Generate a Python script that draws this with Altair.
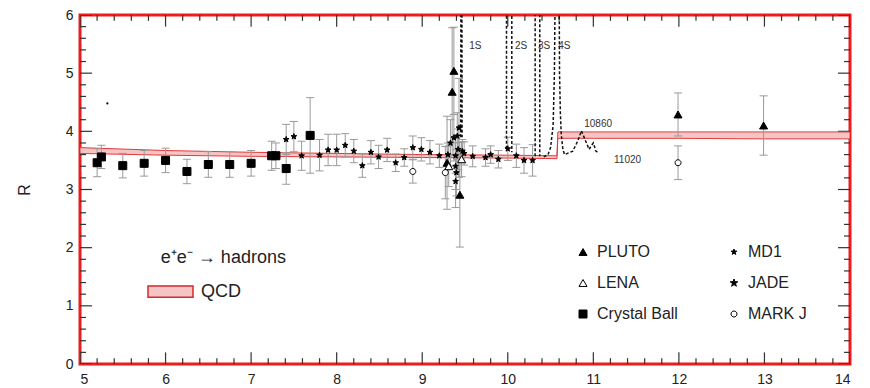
import altair as alt
import pandas as pd

# ---- measurements: centre-of-mass energy (GeV), R, symmetric error ----
cb_x = [5.20, 5.25, 5.50, 5.75, 6.00, 6.25, 6.50, 6.75, 7.00, 7.24, 7.29, 7.41, 7.69]
cb_r = [3.46, 3.56, 3.41, 3.45, 3.50, 3.31, 3.43, 3.43, 3.45, 3.58, 3.58, 3.36, 3.93]
cb_e = [0.24, 0.20, 0.21, 0.22, 0.21, 0.21, 0.22, 0.22, 0.22, 0.25, 0.22, 0.27, 0.65]

md1_x = [7.41, 7.50, 7.59, 7.80, 7.90, 8.00, 8.10, 8.20, 8.30, 8.40, 8.49, 8.59, 8.69,
         8.79, 8.89, 8.99, 9.09, 9.20, 9.30, 9.33, 9.37, 9.39, 9.39, 9.39, 9.40, 9.41,
         9.42, 9.43, 9.47, 9.49, 9.59, 9.74, 9.80, 9.89, 10.00, 10.10, 10.19, 10.29]
md1_r = [3.86, 3.91, 3.58, 3.59, 3.68, 3.68, 3.76, 3.66, 3.41, 3.64, 3.56, 3.68, 3.46,
         3.55, 3.72, 3.69, 3.64, 3.58, 3.60, 3.80, 3.89, 3.58, 3.40, 3.14, 3.29, 3.92,
         3.69, 4.06, 3.66, 3.62, 3.57, 3.55, 3.60, 3.52, 3.70, 3.58, 3.50, 3.50]
md1_e = [0.26, 0.26, 0.25, 0.27, 0.27, 0.27, 0.20, 0.20, 0.20, 0.20, 0.20, 0.20, 0.15,
         0.15, 0.20, 0.20, 0.20, 0.20, 0.20, 0.40, 0.40, 0.30, 0.40, 0.45, 0.40, 0.40,
         0.35, 0.85, 0.20, 0.20, 0.18, 0.15, 0.15, 0.15, 0.20, 0.20, 0.22, 0.27]

pluto_x = [9.29, 9.35, 9.37, 9.44, 11.99, 12.99]
pluto_r = [3.46, 4.68, 5.04, 2.91, 4.29, 4.10]
pluto_e = [0.80, 1.10, 0.75, 0.90, 0.37, 0.51]

lena_x = [9.31, 9.46]
lena_r = [3.40, 3.52]
lena_e = [0.35, 0.30]

markj_x = [8.89, 9.27, 11.99]
markj_r = [3.31, 3.29, 3.46]
markj_e = [0.20, 0.45, 0.29]

stray_x = [5.32]
stray_r = [4.48]

# ---- QCD prediction band (below / above the b-bbar threshold) ----
qcd_x = [5.0, 6.0, 7.0, 8.0, 9.0, 10.0, 10.575, 10.585, 11.0, 12.0, 13.0, 14.0]
qcd_lo = [3.62, 3.59, 3.57, 3.56, 3.55, 3.54, 3.53, 3.88, 3.88, 3.88, 3.87, 3.87]
qcd_hi = [3.72, 3.67, 3.64, 3.62, 3.60, 3.59, 3.58, 3.99, 3.99, 3.99, 3.99, 3.99]

# ---- Upsilon resonance line shapes (peaks run off the top) ----
ups1_x = [9.450, 9.458, 9.466]
ups1_r = [3.90, 12.0, 3.90]
ups2_x = [9.985, 9.985, 10.047, 10.047]
ups2_r = [3.70, 6.6, 6.6, 3.64]
ups3_x = [10.320, 10.320, 10.374, 10.374]
ups3_r = [3.57, 6.6, 6.6, 3.57]
ups4_x = [10.42, 10.47, 10.50, 10.53, 10.545, 10.555, 10.600, 10.605, 10.615, 10.625,
          10.645, 10.665, 10.76, 10.82, 10.86, 10.92, 10.95, 10.98, 11.00, 11.03, 11.06]
ups4_r = [3.56, 3.60, 3.72, 4.10, 5.00, 6.60, 6.60, 5.00, 4.30, 3.95,
          3.68, 3.60, 3.66, 3.84, 4.01, 3.80, 3.69, 3.76, 3.80, 3.66, 3.63]

res_text = ["1S", "2S", "3S", "4S", "10860", "11020"]
res_text_x = [9.62, 10.155, 10.425, 10.66, 11.056, 11.40]
res_text_y = [5.46, 5.46, 5.46, 5.46, 4.12, 3.51]

experiments = ["PLUTO", "LENA", "Crystal Ball", "MD1", "JADE", "MARK J"]

# ---- tables ----
rows = []
for name, xs_, rs_, es_ in [("Crystal Ball", cb_x, cb_r, cb_e), ("MD1", md1_x, md1_r, md1_e),
                            ("PLUTO", pluto_x, pluto_r, pluto_e), ("LENA", lena_x, lena_r, lena_e),
                            ("MARK J", markj_x, markj_r, markj_e)]:
    for x, r, e in zip(xs_, rs_, es_):
        rows.append({"E": x, "R": r, "lo": r - e, "hi": r + e, "exp": name})
pts = pd.DataFrame(rows)

band = pd.DataFrame({"E": qcd_x, "lo": qcd_lo, "hi": qcd_hi, "lab": ["QCD"] * len(qcd_x)})

res_rows = []
for name, xs_, rs_ in [("1S", ups1_x, ups1_r), ("2S", ups2_x, ups2_r),
                       ("3S", ups3_x, ups3_r), ("4S", ups4_x, ups4_r)]:
    for i, (x, r) in enumerate(zip(xs_, rs_)):
        res_rows.append({"E": x, "R": r, "res": name, "i": i})
res = pd.DataFrame(res_rows)

labels = pd.DataFrame({"t": res_text, "E": res_text_x, "R": res_text_y})
stray = pd.DataFrame({"E": stray_x, "R": stray_r})
title_df = pd.DataFrame({"t": ["e\u207ae\u207b \u2192 hadrons"], "E": [5.945], "R": [1.83]})

FONT = "Liberation Sans"
X_MIN, X_MAX, Y_MIN, Y_MAX = 5, 14, 0, 6
xsc = alt.Scale(domain=[X_MIN, X_MAX], nice=False, zero=False)
ysc = alt.Scale(domain=[Y_MIN, Y_MAX], nice=False, zero=False)

# ---- inward frame ticks: every 0.2, whole numbers longer ----
ticks_x = [round(X_MIN + 0.2 * i, 1) for i in range(46)]
ticks_y = [round(Y_MIN + 0.2 * i, 1) for i in range(31)]
is_whole = lambda v: abs(v - round(v)) < 1e-6
LEN_Y = (0.20, 0.10)   # tick length along R (major, minor)
LEN_X = (0.14, 0.07)   # tick length along E (major, minor)
tick_rows = []
for v in ticks_x:
    ln = LEN_Y[0] if is_whole(v) else LEN_Y[1]
    tick_rows.append({"a": v, "a2": v, "b": Y_MIN, "b2": Y_MIN + ln})
    tick_rows.append({"a": v, "a2": v, "b": Y_MAX, "b2": Y_MAX - ln})
for v in ticks_y:
    ln = LEN_X[0] if is_whole(v) else LEN_X[1]
    tick_rows.append({"a": X_MIN, "a2": X_MIN + ln, "b": v, "b2": v})
    tick_rows.append({"a": X_MAX, "a2": X_MAX - ln, "b": v, "b2": v})
frame_ticks_df = pd.DataFrame(tick_rows)

AX_BOTTOM = alt.Axis(orient="bottom", values=list(range(X_MIN, X_MAX + 1)), format="d",
                     ticks=False, domain=False, grid=False,
                     labelFontSize=14, labelFont=FONT, labelColor="#222", labelPadding=8,
                     title=None)
AX_LEFT = alt.Axis(orient="left", values=list(range(Y_MIN, Y_MAX + 1)), format="d",
                   ticks=False, domain=False, grid=False,
                   labelFontSize=14, labelFont=FONT, labelColor="#222", labelPadding=7,
                   title="R", titleFont=FONT, titleFontSize=16, titleFontWeight="normal",
                   titleColor="#222", titlePadding=33)

X = lambda f: alt.X(f, type="quantitative", scale=xsc, axis=AX_BOTTOM)
Y = lambda f: alt.Y(f, type="quantitative", scale=ysc, axis=AX_LEFT)

STAR = ("M0,-1L0.235,-0.324L0.951,-0.309L0.38,0.124L0.588,0.809L0,0.4L-0.588,0.809"
        "L-0.38,0.124L-0.951,-0.309L-0.235,-0.324Z")
STAR_S = ("M0,-0.75L0.176,-0.243L0.713,-0.232L0.285,0.093L0.441,0.607L0,0.3L-0.441,0.607"
          "L-0.285,0.093L-0.713,-0.232L-0.176,-0.243Z")
CIRC = "M0.75,0A0.75,0.75 0 1,1 -0.75,0A0.75,0.75 0 1,1 0.75,0Z"

frame_ticks = alt.Chart(frame_ticks_df).mark_rule(color="#333", strokeWidth=1.2,
                                                  opacity=1, clip=True).encode(
    x=X("a"), x2="a2", y=Y("b"), y2="b2")

qcd_area = alt.Chart(band).mark_area(stroke="#e23b3b", strokeWidth=1, clip=True).encode(
    x=X("E"), y=Y("lo"), y2="hi",
    color=alt.Color("lab:N", scale=alt.Scale(domain=["QCD"], range=["#f5c4c4"]),
                    legend=alt.Legend(orient="none", legendX=67, legendY=253, title=None,
                                      symbolType="M-1,-0.25H1V0.25H-1Z", symbolSize=2025,
                                      symbolStrokeColor="#d42a2a", symbolStrokeWidth=1.5,
                                      labelFontSize=18, labelFont=FONT, labelColor="#222",
                                      labelOffset=7)),
)

err_rule = alt.Chart(pts).mark_rule(color="#9a9a9a", strokeWidth=1, clip=True).encode(
    x=X("E"), y=Y("lo"), y2="hi")
cap_lo = alt.Chart(pts).mark_point(shape="stroke", size=64, stroke="#9a9a9a",
                                   strokeWidth=1, opacity=1, clip=True).encode(x=X("E"), y=Y("lo"))
cap_hi = alt.Chart(pts).mark_point(shape="stroke", size=64, stroke="#9a9a9a",
                                   strokeWidth=1, opacity=1, clip=True).encode(x=X("E"), y=Y("hi"))

res_lines = alt.Chart(res).mark_line(color="#111", strokeWidth=1.5, strokeDash=[3, 2],
                                     clip=True).encode(
    x=X("E"), y=Y("R"), detail="res:N", order="i:Q")

sym_legend = alt.Legend(orient="none", legendX=495, legendY=229, columns=2, title=None,
                        symbolSize=64, symbolStrokeWidth=1,
                        labelFontSize=16, labelFont=FONT, labelColor="#222",
                        labelOffset=6, rowPadding=15, columnPadding=48)

points = alt.Chart(pts).mark_point(strokeWidth=1, size=64, opacity=1, clip=True).encode(
    x=X("E"), y=Y("R"),
    shape=alt.Shape("exp:N", scale=alt.Scale(
        domain=experiments,
        range=["triangle-up", "triangle-up", "square", STAR_S, STAR, CIRC]),
        legend=sym_legend),
    fill=alt.Fill("exp:N", scale=alt.Scale(
        domain=experiments, range=["black", "white", "black", "black", "black", "white"]),
        legend=sym_legend),
    stroke=alt.Stroke("exp:N", scale=alt.Scale(
        domain=experiments, range=["black"] * 6), legend=sym_legend),
)

stray_dot = alt.Chart(stray).mark_point(filled=True, color="black", size=5, opacity=1).encode(
    x=X("E"), y=Y("R"))

res_labels = alt.Chart(labels).mark_text(font=FONT, fontSize=10, color="#333",
                                         align="center", baseline="middle").encode(
    x=X("E"), y=Y("R"), text="t:N")

proc_label = alt.Chart(title_df).mark_text(font=FONT, fontSize=18, color="#222",
                                           align="left", baseline="middle").encode(
    x=X("E"), y=Y("R"), text="t:N")

chart = alt.layer(
    frame_ticks, qcd_area, err_rule, cap_lo, cap_hi, res_lines, points, stray_dot,
    res_labels, proc_label,
).properties(
    width=770, height=349,
    autosize=alt.AutoSizeParams(type="none"),
    padding={"left": 80, "top": 15, "right": 20, "bottom": 24},
).configure(font=FONT).configure_view(
    stroke="#ee1c1c", strokeWidth=3
)

chart.save("out.html", embed_options={"renderer": "svg", "actions": False})
